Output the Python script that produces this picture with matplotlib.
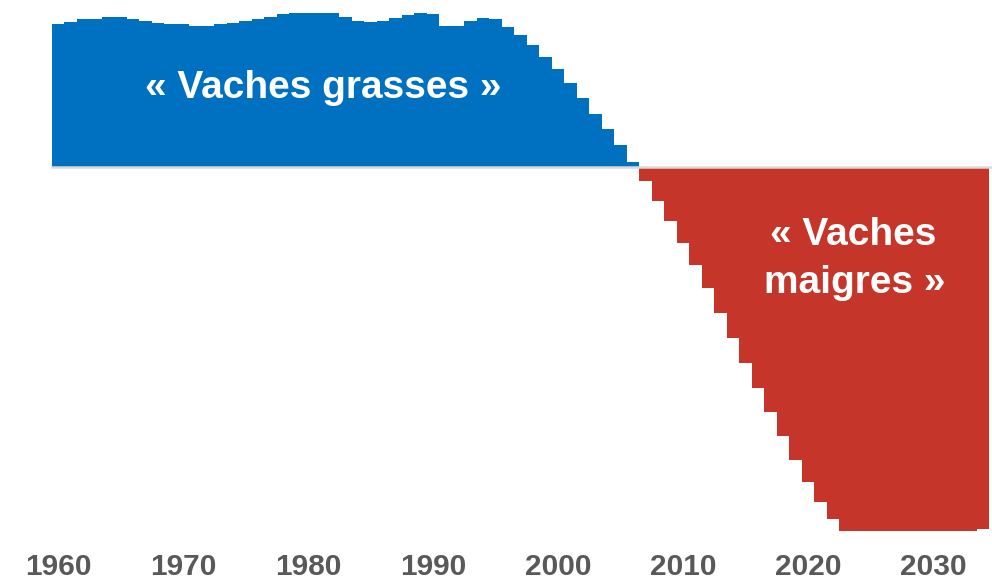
import matplotlib.pyplot as plt
import numpy as np

plt.rcParams['font.family'] = ['Liberation Sans', 'DejaVu Sans']

years = list(range(1960, 2035))
surplus = [143, 145, 147.5, 148, 149.5, 149.5, 148, 145.5, 143.5, 143,
           143, 141, 141, 142.5, 144, 146, 147.5, 150, 152.5, 154,
           154, 154, 154, 150, 146, 145, 146, 149, 151.5, 154,
           152.5, 141, 141, 145.5, 149, 147.5, 140, 131.5, 121.5, 110,
           97.5, 84, 69, 53, 38, 22, 5]
deficit = [-14.5, -34.5, -54.5, -76, -98.5, -121, -146, -171, -196, -221,
           -245.5, -269.5, -293.5, -315, -335, -352.5,
           -364, -364, -364, -364, -364, -364, -364, -364, -364, -364, -364,
           -362.5]
tick_years = [1960, 1970, 1980, 1990, 2000, 2010, 2020, 2030]

values = np.array(surplus + deficit)
colors = ['#0070C0' if v > 0 else '#C5352A' for v in values]

fig = plt.figure(figsize=(9.92, 5.84), dpi=100)
ax = fig.add_axes([0, 39 / 584, 1, 545 / 584])

ax.bar(years, values, width=1.0, color=colors, linewidth=0)
ax.plot([years[0] - 0.5, 2040], [0, 0], color='#D9D9D9', lw=1.8, zorder=3)

ax.set_xlim(1960 - 58 / 12.5, 1960 - 58 / 12.5 + 992 / 12.5)
ax.set_ylim(166.5 - 545, 166.5)

ax.set_xticks(tick_years)
ax.set_xticklabels([str(y) for y in tick_years], fontsize=21.5,
                   fontweight='bold', color='#595959')
ax.tick_params(axis='x', length=0, pad=6)
ax.set_yticks([])
for s in ax.spines.values():
    s.set_visible(False)

label_kw = dict(color='white', fontsize=28, fontweight='bold',
                ha='center', va='baseline')
ax.text(1981.2, 69, '« Vaches grasses »', **label_kw)
ax.text(2023.6, -78.5, '« Vaches', **label_kw)
ax.text(2023.7, -126.5, 'maigres »', **label_kw)

fig.savefig('out.png', dpi=100)
